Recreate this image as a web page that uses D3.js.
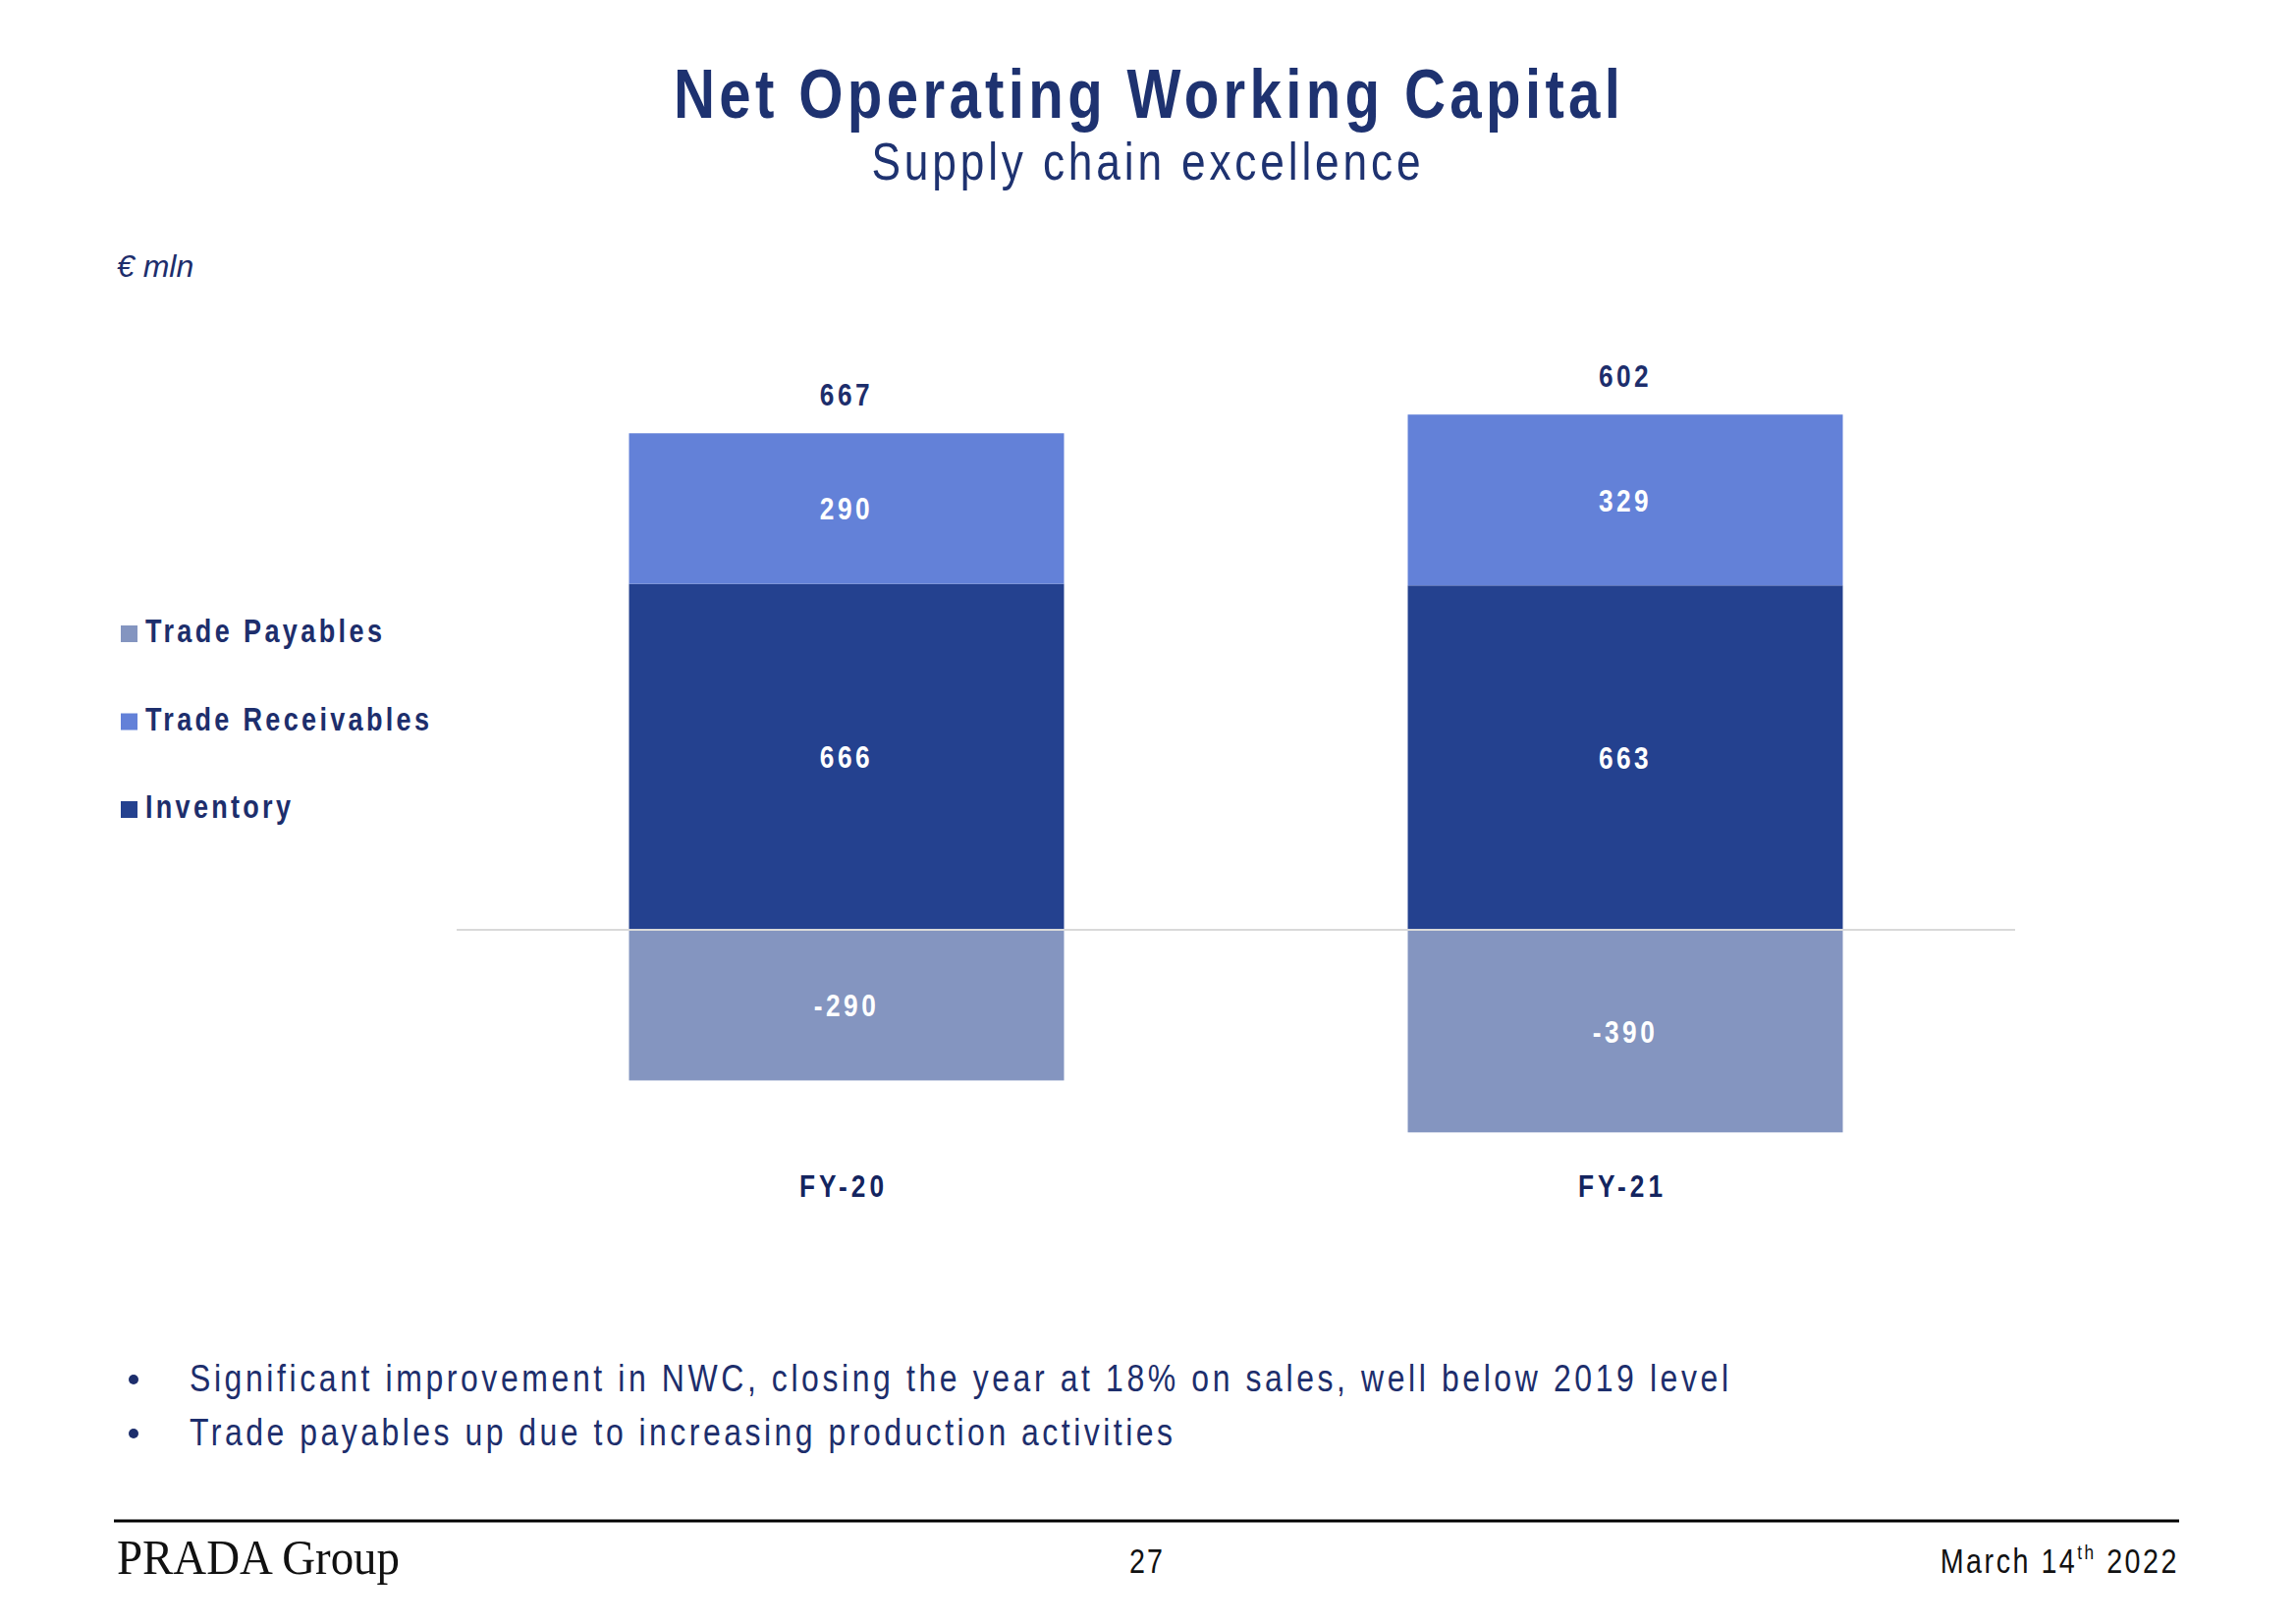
<!DOCTYPE html>
<html>
<head>
<meta charset="utf-8">
<script src="https://cdn.jsdelivr.net/npm/d3@7"></script>
<style>
html,body{margin:0;padding:0;background:#fff;}
svg{display:block;}
</style>
</head>
<body>
<svg id="chart" width="2338" height="1654"></svg>
<script>
// ---------------- data ----------------
const categories = ["FY-20", "FY-21"];
const inventory = [666, 663];
const receivables = [290, 329];
const payables = [-290, -390];
const totals = [667, 602];
const seriesKeys = ["Inventory", "Trade Receivables", "Trade Payables"];
const legendOrder = ["Trade Payables", "Trade Receivables", "Inventory"];
const titleText = "Net Operating Working Capital";
const subtitleText = "Supply chain excellence";
const unitText = "€ mln";
const bullets = [
  "Significant improvement in NWC, closing the year at 18% on sales, well below 2019 level",
  "Trade payables up due to increasing production activities"
];

// ---------------- styles ----------------
const colors = {
  "Inventory": "#24418f",
  "Trade Receivables": "#6381d8",
  "Trade Payables": "#8495c0"
};
const navy = "#1d2e6c";
const navyDark = "#13245f";

// font detection for a narrow sans
const cv = document.createElement("canvas").getContext("2d");
function mw(font, s) { cv.font = font; return cv.measureText(s).width; }
function fontExists(name) {
  const s = "Trade Receivables Working Capital 0123";
  const a1 = mw(`bold 40px "${name}", monospace`, s), b1 = mw("bold 40px monospace", s);
  const a2 = mw(`bold 40px "${name}", serif`, s), b2 = mw("bold 40px serif", s);
  return !(Math.abs(a1 - b1) < 0.5 && Math.abs(a2 - b2) < 0.5) && Math.abs(a1 - a2) < 0.5;
}
let narrowName = null;
for (const n of ["Liberation Sans Narrow", "Arial Narrow", "Nimbus Sans Narrow"]) {
  if (fontExists(n)) { narrowName = n; break; }
}
const NARROW = narrowName ? `"${narrowName}", sans-serif` : '"Liberation Sans", Arial, sans-serif';
const SX = narrowName ? 1 : 0.82;

const svg = d3.select("#chart");

// narrow text helper: x,y anchor position, optional target width
function ntext(parent, str, x, y, opts) {
  const o = Object.assign({size: 30, weight: "normal", anchor: "start", fill: navy, width: null, ls: 0, style: "normal"}, opts);
  const g = parent.append("g").attr("transform", `translate(${x},${y}) scale(${SX},1)`);
  const t = g.append("text")
    .attr("x", 0).attr("y", 0)
    .attr("text-anchor", o.anchor)
    .attr("font-family", NARROW)
    .attr("font-size", o.size)
    .attr("font-weight", o.weight)
    .attr("font-style", o.style)
    .attr("fill", o.fill)
    .text(str);
  if (o.width) {
    t.attr("textLength", o.width / SX).attr("lengthAdjust", "spacing");
  } else if (o.ls) {
    t.attr("letter-spacing", o.ls / SX);
  }
  return t;
}

// ---------------- scales ----------------
const zeroY = 947, pxPerUnit = 0.529;
const y = d3.scaleLinear()
  .domain([-400, 1000])
  .range([zeroY + 400 * pxPerUnit, zeroY - 1000 * pxPerUnit]);
const x = d3.scaleBand()
  .domain(categories)
  .range([465, 2052])
  .paddingInner(0.4414)
  .paddingOuter(0.2213);

// ---------------- stacked data ----------------
const rows = categories.map((c, i) => ({
  cat: c,
  "Inventory": inventory[i],
  "Trade Receivables": receivables[i],
  "Trade Payables": payables[i]
}));
const stack = d3.stack().keys(seriesKeys).offset(d3.stackOffsetDiverging);
const layers = stack(rows);

// ---------------- titles ----------------
ntext(svg, titleText, 1168, 120, {size: 71, weight: "bold", anchor: "middle", width: 964, fill: "#1e3270"});
ntext(svg, subtitleText, 1167, 183, {size: 54, anchor: "middle", width: 559, fill: "#1e3270"});

svg.append("text")
  .attr("x", 119).attr("y", 282)
  .attr("font-family", '"Liberation Sans", Arial, sans-serif')
  .attr("font-style", "italic")
  .attr("font-size", 32)
  .attr("fill", navy)
  .text(unitText);

// ---------------- bars ----------------
const gBars = svg.append("g");
layers.forEach(layer => {
  gBars.selectAll(null)
    .data(layer)
    .join("rect")
    .attr("x", d => x(d.data.cat))
    .attr("width", x.bandwidth())
    .attr("y", d => y(Math.max(d[0], d[1])))
    .attr("height", d => Math.abs(y(d[0]) - y(d[1])))
    .attr("fill", colors[layer.key]);
});
// zero line
svg.append("line")
  .attr("x1", x.range()[0]).attr("x2", x.range()[1])
  .attr("y1", y(0)).attr("y2", y(0))
  .attr("stroke", "#d9d9d9").attr("stroke-width", 2);

// segment labels
layers.forEach(layer => {
  layer.forEach(d => {
    const v = d.data[layer.key];
    const cy = (y(d[0]) + y(d[1])) / 2;
    ntext(svg, String(v), x(d.data.cat) + x.bandwidth() / 2, cy + 11.5,
      {size: 32, weight: "bold", anchor: "middle", fill: "#ffffff", ls: 3.5});
  });
});

// totals
categories.forEach((c, i) => {
  const top = y(inventory[i] + receivables[i]);
  ntext(svg, String(totals[i]), x(c) + x.bandwidth() / 2, top - 28,
    {size: 32, weight: "bold", anchor: "middle", fill: navy, ls: 3.5});
});

// category labels
categories.forEach(c => {
  ntext(svg, c, x(c) + x.bandwidth() / 2 - 3, 1219,
    {size: 32, weight: "bold", anchor: "middle", fill: navyDark, ls: 4});
});

// ---------------- legend ----------------
const legendWidths = {"Trade Payables": 241, "Trade Receivables": 289, "Inventory": 148};
legendOrder.forEach((k, i) => {
  const base = 654 + i * 89.5;
  svg.append("rect")
    .attr("x", 123).attr("y", base - 17)
    .attr("width", 17).attr("height", 17)
    .attr("fill", colors[k]);
  ntext(svg, k, 148, base, {size: 33, weight: "bold", fill: navy, width: legendWidths[k]});
});

// ---------------- bullets ----------------
const bulletWidths = [1567, 1001];
bullets.forEach((b, i) => {
  const base = 1417 + i * 55;
  svg.append("circle").attr("cx", 136).attr("cy", base - 12).attr("r", 5).attr("fill", navy);
  ntext(svg, b, 193, base, {size: 39, fill: navy, width: bulletWidths[i]});
});

// ---------------- footer ----------------
svg.append("line")
  .attr("x1", 116).attr("x2", 2219)
  .attr("y1", 1549).attr("y2", 1549)
  .attr("stroke", "#000").attr("stroke-width", 3);

svg.append("g").attr("transform", "translate(119,1603) scale(0.7,1)")
  .append("text")
  .attr("font-family", '"Liberation Serif", "Times New Roman", serif')
  .attr("font-size", 50)
  .attr("fill", "#111")
  .attr("textLength", 288 / 0.7)
  .attr("lengthAdjust", "spacingAndGlyphs")
  .text("PRADA Group");

ntext(svg, "27", 1168, 1602, {size: 35, anchor: "middle", fill: "#111", ls: 2});

const dateT = ntext(svg, "", 2219, 1602, {size: 35, anchor: "end", fill: "#111", ls: 2.5});
dateT.append("tspan").text("March 14");
dateT.append("tspan").attr("font-size", 21).attr("dy", -14).text("th");
dateT.append("tspan").attr("dy", 14).text(" 2022");
</script>
</body>
</html>
